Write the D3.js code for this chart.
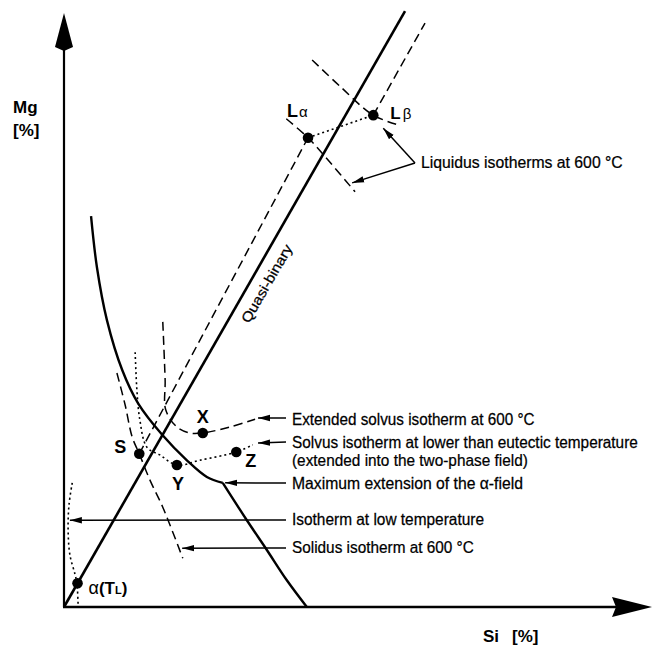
<!DOCTYPE html>
<html><head><meta charset="utf-8">
<script src="https://cdn.jsdelivr.net/npm/d3@7"></script>
<style>body{margin:0;background:#fff} svg{display:block}</style>
</head><body>
<svg id="c" width="653" height="646"></svg>
<script>
// ---------- data (Si %, Mg %) in schematic units ----------
const quasiBinary = [[0, 0], [58.0, 100.3]];
const tieDashedLeft = [[12.8, 25.8], [41.5, 79.0]];          // S -> L_alpha
const tieDashedRight = [[52.6, 82.8], [61.4, 98.3]];         // L_beta -> up
const alphaBoundaryUpper = [[4.6, 65.8], [5.6, 57.2], [7.3, 48.3], [9.9, 39.9], [12.6, 34.3], [16.7, 29.0], [20.9, 24.7], [24.3, 21.9], [27.0, 20.9]];
const alphaBoundaryLower = [[27.0, 20.9], [31.1, 14.6], [34.5, 9.6], [37.9, 4.5], [41.3, 0]];
const extSolvus600 = [[16.8, 48.0], [17.2, 38.2], [17.3, 33.2], [19.2, 30.3], [21.4, 29.3], [23.6, 29.3], [28.2, 30.3], [32.5, 31.6]];
const solvusLowT = [[12.1, 42.9], [12.4, 36.5], [12.9, 31.5], [14.1, 26.9], [16.3, 25.6], [19.2, 23.9], [23.1, 24.7], [29.3, 26.1], [32.1, 27.3]];
const solidus600 = [[9.0, 39.4], [10.4, 34.0], [11.6, 28.6], [12.8, 25.8], [14.6, 21.4], [16.8, 16.8], [20.2, 8.2]];
const isothermLowT = [[1.4, 20.9], [0.85, 17.2], [0.7, 13.0], [1.0, 8.8], [1.9, 5.4], [2.2, 4.0], [2.4, 0.3]];
const liquidusAlpha = [[37.8, 82.2], [41.5, 79.0], [45.2, 74.9], [49.5, 69.9]];
const liquidusBeta = [[42.2, 92.1], [46.9, 87.7], [52.6, 82.8], [57.1, 81.1]];
const tieLiquid = [[41.5, 79.0], [52.6, 82.8]];

const pointNames = ["S", "X", "Y", "Z", "Lα", "Lβ", "α(TL)"];
const pointSi = [12.8, 23.6, 19.2, 29.3, 41.5, 52.6, 2.3];
const pointMg = [25.8, 29.3, 23.9, 26.1, 79.0, 82.8, 4.0];

const annotationTexts = [
  "Liquidus isotherms at 600 °C",
  "Extended solvus isotherm at 600 °C",
  "Solvus isotherm at lower than eutectic temperature",
  "(extended into the two-phase field)",
  "Maximum extension of the α-field",
  "Isotherm at low temperature",
  "Solidus isotherm at 600 °C"
];
// arrow targets (Si, Mg)
const arrowTargetSi = [54.3, 49.0, 33.0, 33.0, 27.4, 1.0, 20.1];
const arrowTargetMg = [80.6, 71.4, 31.8, 27.6, 20.9, 14.6, 9.9];

const xLabel = "Si", yLabel = "Mg", unitLabel = "[%]";
const curveLabel = "Quasi-binary";

// ---------- scales ----------
const x = d3.scaleLinear().domain([0, 100]).range([64, 652]);
const y = d3.scaleLinear().domain([0, 100]).range([607, 13]);
const svg = d3.select("#c");
const FONT = "'Liberation Sans Narrow','Liberation Sans',Arial,Helvetica,sans-serif";

svg.append("defs").append("marker")
  .attr("id", "ah").attr("markerUnits", "userSpaceOnUse")
  .attr("markerWidth", 13).attr("markerHeight", 8)
  .attr("refX", 12).attr("refY", 4).attr("orient", "auto")
  .append("path").attr("d", "M0,0.8 L12,4 L0,7.2 Z").attr("fill", "#000");

const lineStraight = d3.line().x(d => x(d[0])).y(d => y(d[1]));
const lineCurve = d3.line().x(d => x(d[0])).y(d => y(d[1])).curve(d3.curveCatmullRom.alpha(0.5));

// axes
svg.append("line").attr("x1", x(0)).attr("y1", y(0)).attr("x2", x(0)).attr("y2", y(95))
  .attr("stroke", "#000").attr("stroke-width", 2.2);
svg.append("line").attr("x1", x(0) - 1).attr("y1", y(0)).attr("x2", x(95)).attr("y2", y(0))
  .attr("stroke", "#000").attr("stroke-width", 2.6);
svg.append("path").attr("d", `M${x(0)},${y(100)} L${x(0) + 9},${y(0) - 560} L${x(0)},${y(0) - 556} L${x(0) - 9},${y(0) - 560} Z`)
  .attr("fill", "#000");
svg.append("path").attr("d", `M${x(100)},${y(0)} L${x(100) - 40},${y(0) - 10} L${x(100) - 36},${y(0)} L${x(100) - 40},${y(0) + 10} Z`)
  .attr("fill", "#000");

// solid curves
svg.append("path").attr("d", lineStraight(quasiBinary)).attr("fill", "none").attr("stroke", "#000").attr("stroke-width", 2.6);
svg.append("path").attr("d", lineCurve(alphaBoundaryUpper)).attr("fill", "none").attr("stroke", "#000").attr("stroke-width", 2.4);
svg.append("path").attr("d", lineCurve(alphaBoundaryLower)).attr("fill", "none").attr("stroke", "#000").attr("stroke-width", 2.4);

// dashed lines
const dashed = (data, curve) => svg.append("path").attr("d", (curve ? lineCurve : lineStraight)(data))
  .attr("fill", "none").attr("stroke", "#000").attr("stroke-width", 1.5).attr("stroke-dasharray", "9,5");
dashed(tieDashedLeft, false);
dashed(tieDashedRight, false);
dashed(extSolvus600, true);
dashed(solidus600, true);
dashed(liquidusAlpha, true);
dashed(liquidusBeta, true);

// dotted lines
const dotted = (data, curve) => svg.append("path").attr("d", (curve ? lineCurve : lineStraight)(data))
  .attr("fill", "none").attr("stroke", "#000").attr("stroke-width", 1.6).attr("stroke-dasharray", "2,3");
dotted(solvusLowT, true);
dotted(isothermLowT, true);
dotted(tieLiquid, false);

// points
svg.selectAll("circle.pt").data(pointNames).join("circle").attr("class", "pt")
  .attr("cx", (d, i) => x(pointSi[i])).attr("cy", (d, i) => y(pointMg[i])).attr("r", 5.3).attr("fill", "#000");

// point labels
const lbl = (t, px, py, size, weight) => svg.append("text").attr("x", px).attr("y", py)
  .attr("font-family", FONT).attr("font-size", size).attr("font-weight", weight || "bold").text(t);
lbl("S", x(pointSi[0]) - 25, y(pointMg[0]) - 1, 18);
lbl("X", x(pointSi[1]) - 6, y(pointMg[1]) - 10, 18);
lbl("Y", x(pointSi[2]) - 5, y(pointMg[2]) + 25, 18);
lbl("Z", x(pointSi[3]) + 9, y(pointMg[3]) + 15, 18);
const la = svg.append("text").attr("x", x(pointSi[4]) - 21).attr("y", y(pointMg[4]) - 21).attr("font-family", FONT);
la.append("tspan").attr("font-size", 18).attr("font-weight", "bold").text("L");
la.append("tspan").attr("font-size", 15).attr("dx", 1).text("α");
const lb = svg.append("text").attr("x", x(pointSi[5]) + 17).attr("y", y(pointMg[5]) + 4).attr("font-family", FONT);
lb.append("tspan").attr("font-size", 17).attr("font-weight", "bold").text("L");
lb.append("tspan").attr("font-size", 15).attr("dx", 2).text("β");
const lt = svg.append("text").attr("x", x(pointSi[6]) + 11).attr("y", y(pointMg[6]) + 11).attr("font-family", FONT);
lt.append("tspan").attr("font-size", 18).text("α");
lt.append("tspan").attr("font-size", 17).attr("font-weight", "bold").text("(T");
lt.append("tspan").attr("font-size", 11).attr("font-weight", "bold").text("L");
lt.append("tspan").attr("font-size", 17).attr("font-weight", "bold").text(")");

// condensed text helper: scale horizontally to a target width
function narrowText(t, px, py, size, width, rot, anchorMid) {
  const g = svg.append("g");
  const el = g.append("text").attr("font-family", FONT).attr("font-size", size)
    .attr("stroke", "#000").attr("stroke-width", 0.25).text(t);
  const natural = el.node().getComputedTextLength();
  const sx = width / natural;
  el.attr("x", anchorMid ? -natural / 2 : 0).attr("y", 0);
  g.attr("transform", `translate(${px},${py})` + (rot ? ` rotate(${rot})` : "") + ` scale(${sx},1)`);
  return el;
}

// annotation texts (layout: left x, baseline, width)
const annX = [421, 292, 292, 292, 292, 292, 292];
const annY = [168, 425, 448, 466, 489, 525, 553];
const annW = [202, 243, 346, 236, 231, 192, 182];
annotationTexts.forEach((t, i) => narrowText(t, annX[i], annY[i], 16.5, annW[i]));

// arrows from the texts
const arrowFrom = [[415, 163], [415, 163], [286, 418], [286, 442], [286, 483], [286, 520], [286, 548]];
arrowFrom.forEach((f, i) => {
  svg.append("line").attr("x1", f[0]).attr("y1", f[1])
    .attr("x2", x(arrowTargetSi[i])).attr("y2", y(arrowTargetMg[i]))
    .attr("stroke", "#000").attr("stroke-width", 1.5).attr("marker-end", "url(#ah)");
});

// axis labels
lbl(yLabel, 13, 113, 17);
lbl(unitLabel, 13, 136, 17);
lbl(xLabel, 483, 642, 17);
lbl(unitLabel, 512, 642, 17);

// quasi-binary label (rotated along the line)
narrowText(curveLabel, 271, 286, 14, 88, -60, true);
</script>
</body></html>
